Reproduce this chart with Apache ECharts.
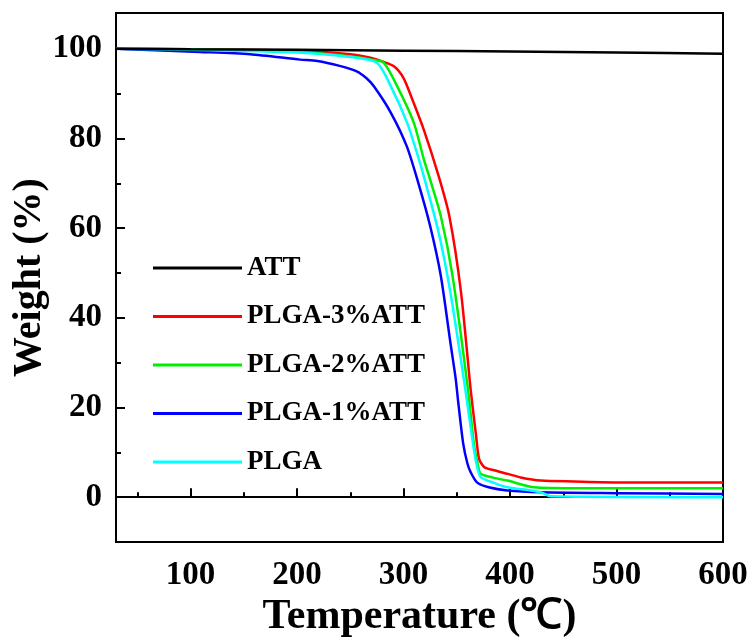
<!DOCTYPE html>
<html>
<head>
<meta charset="utf-8">
<script src="https://cdn.jsdelivr.net/npm/echarts@6/dist/echarts.min.js"></script>
<style>
  html, body { margin: 0; padding: 0; background: #fff; }
  #chart { width: 753px; height: 637px; }
</style>
</head>
<body>
<div id="chart"></div>
<script>
// TGA curves: [temperature (℃), weight (%)]
const seriesNames = ['ATT', 'PLGA-3%ATT', 'PLGA-2%ATT', 'PLGA-1%ATT', 'PLGA']
const seriesColors = ['#000000', '#ff0000', '#00ee00', '#0000ff', '#00ffff']

const att = [[30, 100], [100, 99.9], [200, 99.8], [300, 99.6], [400, 99.4], [500, 99.2], [600, 98.9]]
const plga3 = [[30, 100], [100, 99.9], [200, 99.6], [250, 98.8], [269, 98.0], [280, 97.2], [291, 96.1], [300, 93.5],
  [307, 89.5], [319, 82], [333, 71.6], [343, 62.7], [354, 45.7], [363, 24.1], [368, 14], [371, 8.5],
  [376, 6.7], [385, 6], [398, 5.2], [410, 4.4], [429, 3.7], [460, 3.5], [504, 3.3], [600, 3.3]]
const plga2 = [[30, 100], [100, 99.9], [200, 99.4], [250, 98.3], [270, 97.6], [281.5, 96.9], [294, 91.7], [309.7, 83.5],
  [319, 75.4], [324, 71.6], [335, 62.7], [346, 49.4], [360.5, 24.1], [366, 12], [370, 7], [372.4, 5.2], [385, 4.3],
  [397.5, 3.7], [422.6, 2.2], [460, 2.0], [600, 2.0]]
const plga1 = [[30, 100], [109, 99.3], [156, 98.8], [203, 97.6], [219, 97.3], [240, 96.2], [256, 95.0], [265, 93.5],
  [272, 91.7], [288, 85.8], [303, 78.3], [314, 70], [325, 60.5], [335, 49.4], [344, 34.5], [349, 26.4],
  [351, 22], [356, 12], [360, 7.5], [363, 5.6], [369, 3.3], [380, 2.2], [397.5, 1.5], [429, 1.1], [500, 0.9], [600, 0.7]]
const plga = [[30, 100], [100, 99.8], [200, 99.2], [250, 98.2], [275, 96.9], [288, 91.7], [303.4, 83.5], [314.4, 75.4],
  [319, 71.6], [333, 59], [344, 45.7], [358, 24.1], [364.6, 13], [368, 8], [372.4, 4.5], [385, 3.2], [397.5, 2.2],
  [419.5, 1.5], [430, 1.0], [438, 0.2], [600, 0]]
const allData = [att, plga3, plga2, plga1, plga]

const xMajorTicks = [100, 200, 300, 400, 500, 600]
const xMinorTicks = [50, 150, 250, 350, 450, 550]
const yMajorTicks = [0, 20, 40, 60, 80, 100]
const yMinorTicks = [10, 30, 50, 70, 90]

const font = 'Liberation Serif'
const chart = echarts.init(document.getElementById('chart'))

const xBase = {
  type: 'value', min: 30, max: 600, position: 'bottom',
  splitLine: { show: false },
  axisLine: { lineStyle: { color: '#000', width: 2 } }
}
const yBase = {
  type: 'value', min: -10, max: 108, position: 'left',
  splitLine: { show: false },
  axisLine: { lineStyle: { color: '#000', width: 2 } }
}

chart.setOption({
  animation: false,
  grid: {
    left: 116, right: 30, top: 13, bottom: 95, outerBoundsMode: 'none',
    show: true, borderColor: '#000', borderWidth: 2
  },
  legend: {
    orient: 'vertical', left: 148, top: 249,
    icon: 'rect', itemWidth: 89, itemHeight: 3, itemGap: 20.5,
    textStyle: { fontFamily: font, fontWeight: 'bold', fontSize: 27, color: '#000', lineHeight: 28 },
    data: seriesNames
  },
  xAxis: [
    Object.assign({}, xBase, {
      name: 'Temperature (℃)', nameLocation: 'middle', nameGap: 54, nameMoveOverlap: false,
      nameTextStyle: { fontFamily: font, fontWeight: 'bold', fontSize: 42, color: '#000' },
      axisTick: { inside: true, length: 9, lineStyle: { width: 2, color: '#000' }, customValues: xMajorTicks },
      axisLabel: { fontFamily: font, fontWeight: 'bold', fontSize: 33, color: '#000', margin: 17, customValues: xMajorTicks }
    }),
    Object.assign({}, xBase, {
      axisTick: { inside: true, length: 5, lineStyle: { width: 2, color: '#000' }, customValues: xMinorTicks },
      axisLabel: { show: false }
    })
  ],
  yAxis: [
    Object.assign({}, yBase, {
      name: 'Weight (%)', nameLocation: 'middle', nameGap: 66, nameMoveOverlap: false,
      nameTextStyle: { fontFamily: font, fontWeight: 'bold', fontSize: 40, color: '#000' },
      axisTick: { inside: true, length: 9, lineStyle: { width: 2, color: '#000' }, customValues: yMajorTicks },
      axisLabel: { fontFamily: font, fontWeight: 'bold', fontSize: 33, color: '#000', margin: 14, customValues: yMajorTicks }
    }),
    Object.assign({}, yBase, {
      axisTick: { inside: true, length: 5, lineStyle: { width: 2, color: '#000' }, customValues: yMinorTicks },
      axisLabel: { show: false }
    })
  ],
  series: seriesNames.map((name, i) => ({
    name: name,
    type: 'line',
    xAxisIndex: 0,
    yAxisIndex: 0,
    showSymbol: false,
    smooth: 0.25,
    z: i === 0 ? 3 : 2,
    itemStyle: { color: seriesColors[i] },
    lineStyle: { color: seriesColors[i], width: 2.5 },
    data: allData[i]
  }))
})
</script>
</body>
</html>
